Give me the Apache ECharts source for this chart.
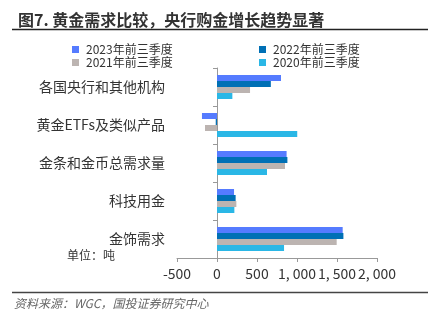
<!DOCTYPE html>
<html><head><meta charset="utf-8">
<script src="https://cdn.jsdelivr.net/npm/echarts@6/dist/echarts.min.js"></script>
<style>html,body{margin:0;padding:0;background:#fff}#c{width:443px;height:321px}</style>
</head><body><div id="c"></div>
<script>
var categories = ['各国央行和其他机构', '黄金ETFs及类似产品', '金条和金币总需求量', '科技用金', '金饰需求'];
var seriesNames = ['2023年前三季度', '2022年前三季度', '2021年前三季度', '2020年前三季度'];
var v2023 = [800, -188, 870, 213, 1571];
var v2022 = [673, -16, 880, 233, 1580];
var v2021 = [413, -150, 850, 242, 1496];
var v2020 = [192, 1003, 625, 217, 838];
var xTicks = [-500, 0, 500, 1000, 1500, 2000];
var colors = ['#557BFF', '#0070B5', '#BCB4B1', '#2AB7E6'];
var allValues = [v2023, v2022, v2021, v2020];

var chart = echarts.init(document.getElementById('c'));
var font = '"Noto Sans CJK SC", sans-serif';
function legendCfg(names, left) {
  return {
    data: names, left: left, top: 43, orient: 'vertical', padding: 0,
    itemWidth: 7, itemHeight: 7, itemGap: 0, icon: 'rect',
    textStyle: {fontSize: 12, lineHeight: 13, color: '#333', fontFamily: font, padding: [0, 0, 0, 2]}
  };
}
chart.setOption({
  animation: false,
  textStyle: {fontFamily: font},
  title: {
    text: '图7. 黄金需求比较，央行购金增长趋势显著',
    left: 13, top: 7,
    textStyle: {fontSize: 16, fontWeight: 'bold', color: '#333', fontFamily: font}
  },
  graphic: [
    {type: 'line', shape: {x1: 12, y1: 29.5, x2: 428, y2: 29.5}, style: {stroke: '#222', lineWidth: 1.5}},
    {type: 'line', shape: {x1: 12, y1: 292.5, x2: 428, y2: 292.5}, style: {stroke: '#444', lineWidth: 1.5}},
    {type: 'text', left: 14, top: 297, style: {text: '资料来源：WGC，国投证券研究中心', font: 'italic 12px ' + font, fill: '#666'}},
    {type: 'text', left: 67, top: 249, style: {text: '单位：吨', font: '12px ' + font, fill: '#333'}}
  ],
  legend: [
    legendCfg([seriesNames[0], seriesNames[2]], 72),
    legendCfg([seriesNames[1], seriesNames[3]], 259)
  ],
  grid: {left: 177, right: 66, top: 68, bottom: 63, containLabel: false},
  xAxis: {
    type: 'value', min: -500, max: 2000, interval: 500,
    axisLine: {show: true, lineStyle: {color: '#999'}},
    axisTick: {show: true, length: 4, lineStyle: {color: '#999'}},
    splitLine: {show: false},
    axisLabel: {
      fontSize: 14, color: '#333', margin: 9,
      formatter: function (v) { return v.toLocaleString('en-US').replace(/,/g, ', '); }
    }
  },
  yAxis: {
    type: 'category', data: categories, inverse: true,
    axisLine: {show: true, onZero: true, lineStyle: {color: '#999'}},
    axisTick: {show: true, length: 4, lineStyle: {color: '#999'}},
    axisLabel: {fontSize: 14, color: '#333', margin: 12}
  },
  series: seriesNames.map(function (n, i) {
    return {
      name: n, type: 'bar', data: allValues[i],
      barWidth: 6, barGap: '0%', barCategoryGap: '37%',
      itemStyle: {color: colors[i]}
    };
  })
});
</script></body></html>
